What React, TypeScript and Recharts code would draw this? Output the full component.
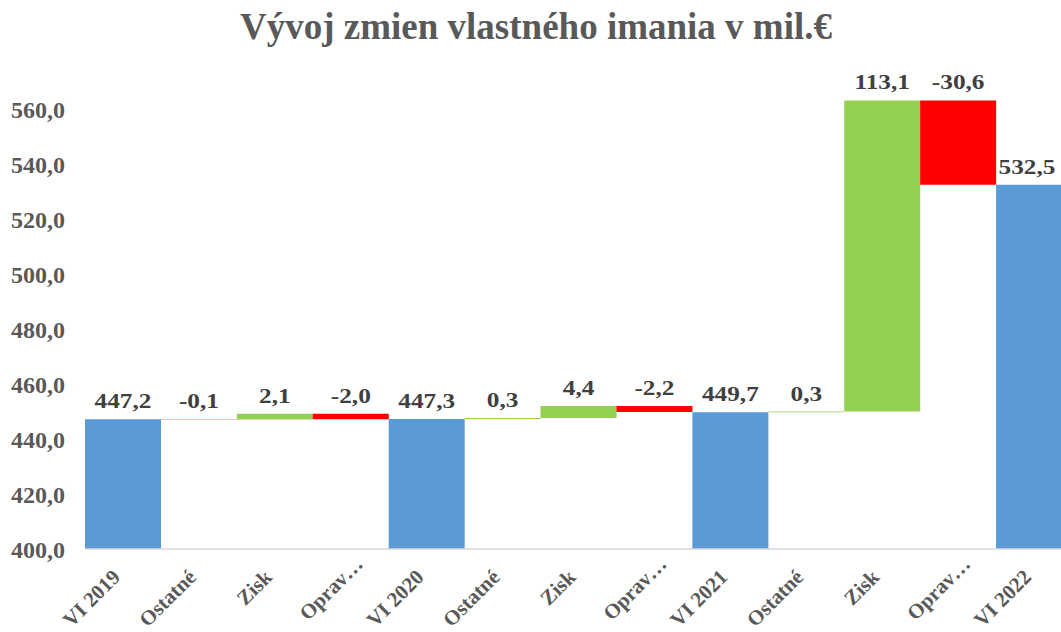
import React from "react";
import { BarChart, Bar, XAxis, YAxis, Cell, LabelList } from "recharts";

/* Chart values */
const categories = [
  "VI 2019", "Ostatné", "Zisk", "Oprav…",
  "VI 2020", "Ostatné", "Zisk", "Oprav…",
  "VI 2021", "Ostatné", "Zisk", "Oprav…",
  "VI 2022",
];
const values = [447.2, -0.1, 2.1, -2.0, 447.3, 0.3, 4.4, -2.2, 449.7, 0.3, 113.1, -30.6, 532.5];
const isTotal = [true, false, false, false, true, false, false, false, true, false, false, false, true];
const yTicks = [400, 420, 440, 460, 480, 500, 520, 540, 560];

const FONT = "'Liberation Serif', 'Times New Roman', serif";
const BLUE = "#5B9BD5";
const GREEN = "#92D050";
const RED = "#FF0000";

const fmt = (v: number) => v.toFixed(1).replace(".", ",");

// waterfall: each row is a [low, high] range bar
let running = 0;
const data = categories.map((name, i) => {
  const v = values[i];
  let range: [number, number];
  let color: string;
  if (isTotal[i]) {
    range = [0, v];
    running = v;
    color = BLUE;
  } else {
    const end = running + v;
    range = [Math.min(running, end), Math.max(running, end)];
    running = end;
    color = v >= 0 ? GREEN : RED;
  }
  return { name, value: v, range, color };
});

const XTick = (props: any) => {
  const { x, y, payload } = props;
  // truncated labels sit a bit further up the diagonal, like Excel draws them
  const cut = String(payload.value).endsWith("…");
  const tx = x - 12 + (cut ? 15 : 0);
  const ty = y + 11 - (cut ? 13 : 0);
  return (
    <g transform={`translate(${tx},${ty})`}>
      <text
        transform="rotate(-45)"
        textAnchor="end"
        dy="0.7em"
        fill="#595959"
        fontFamily={FONT}
        fontWeight="bold"
        fontSize={21}
      >
        {payload.value}
      </text>
    </g>
  );
};

const ValueLabel = (props: any) => {
  const { x, y, width, height, index } = props;
  const top = Math.min(y, y + height);
  // keep the last label inside the visible page
  const cx = Math.min(x + width / 2, 1027);
  return (
    <text
      transform={`translate(${cx},${top - 11}) scale(1.15,1)`}
      textAnchor="middle"
      fill="#404040"
      fontFamily={FONT}
      fontWeight="bold"
      fontSize={22}
    >
      {fmt(values[index])}
    </text>
  );
};

export default function App() {
  return (
    <div
      style={{
        position: "fixed",
        left: 0,
        top: 0,
        width: 1061,
        height: 632,
        overflow: "hidden",
        background: "#fff",
      }}
    >
      <div
        style={{
          position: "absolute",
          left: 0,
          top: 5,
          width: 1072,
          textAlign: "center",
          fontFamily: FONT,
          fontWeight: "bold",
          fontSize: 37,
          color: "#595959",
        }}
      >
        Vývoj zmien vlastného imania v mil.€
      </div>
      <BarChart
        width={1080}
        height={632}
        data={data}
        margin={{ top: 54, right: 8, left: 10, bottom: 0 }}
        barCategoryGap={0}
      >
        <XAxis
          dataKey="name"
          height={83}
          interval={0}
          tickLine={false}
          axisLine={{ stroke: "#D9D9D9", strokeWidth: 1.5 }}
          tick={<XTick />}
        />
        <YAxis
          domain={[400, 580]}
          ticks={yTicks}
          allowDataOverflow
          width={75}
          axisLine={false}
          tickLine={false}
          tickSize={0}
          tickMargin={20}
          tickFormatter={fmt}
          tick={{ fill: "#595959", fontFamily: FONT, fontWeight: "bold", fontSize: 24 }}
        />
        <Bar dataKey="range" isAnimationActive={false}>
          {data.map((d, i) => (
            <Cell key={i} fill={d.color} />
          ))}
          <LabelList dataKey="value" content={<ValueLabel />} />
        </Bar>
      </BarChart>
    </div>
  );
}
